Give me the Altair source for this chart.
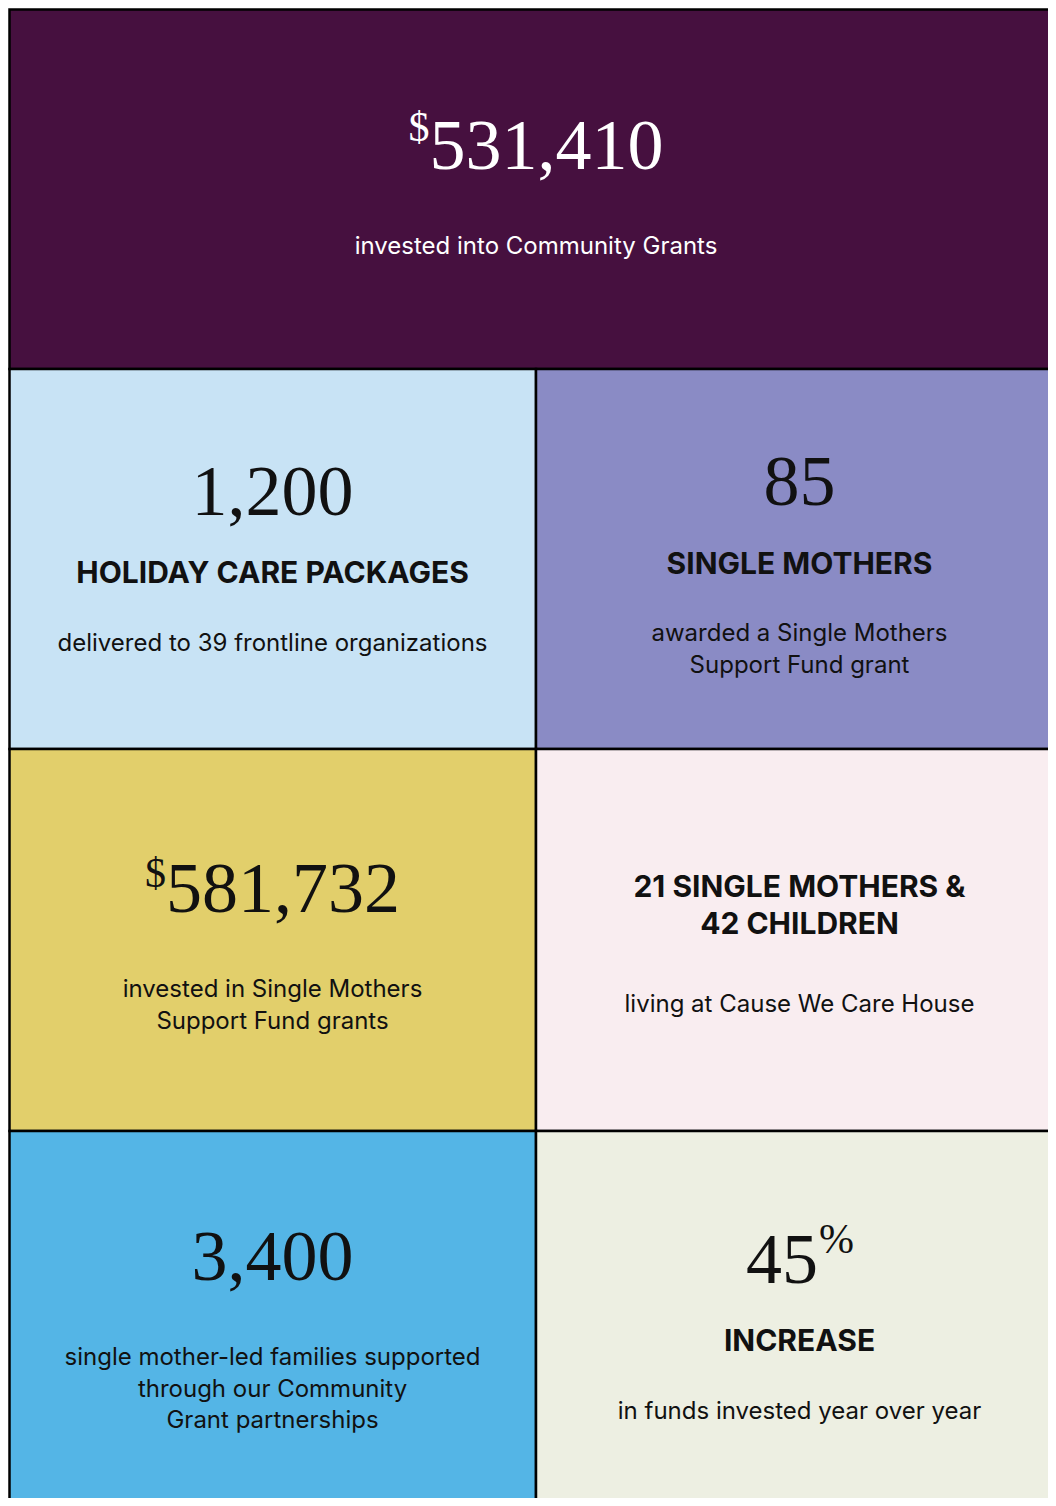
import altair as alt
import pandas as pd

# ---------------- data ----------------
tile_names = ["Community Grants", "Holiday care packages", "Single mothers",
              "SMSF grants", "Cause We Care House", "Families", "Increase"]
tile_colors = ["#46103F", "#C8E3F5", "#8A8BC5", "#E2CF6B", "#F9EDF0", "#54B5E6", "#EDEFE2"]
text_colors = ["#FFFFFF", "#111111", "#111111", "#111111", "#111111", "#111111", "#111111"]
figures = ["531,410", "1,200", "85", "581,732", "", "3,400", "45"]
prefixes = ["$", "", "", "$", "", "", ""]
suffixes = ["", "", "", "", "", "", "%"]
headings = [[], ["HOLIDAY CARE PACKAGES"], ["SINGLE MOTHERS"], [],
            ["21 SINGLE MOTHERS &", "42 CHILDREN"], [], ["INCREASE"]]
descriptions = [["invested into Community Grants"],
                ["delivered to 39 frontline organizations"],
                ["awarded a Single Mothers", "Support Fund grant"],
                ["invested in Single Mothers", "Support Fund grants"],
                ["living at Cause We Care House"],
                ["single mother-led families supported", "through our Community", "Grant partnerships"],
                ["in funds invested year over year"]]

# ---------------- layout (page coordinates, separate from the data) ----------------
W, H = 1040, 1490
PX0, PY0 = 8, 8          # where the plot area starts on the page
COL_EDGES = [9.5, 536, 1070]
ROW_EDGES = [9.5, 369, 749, 1131, 1520]
tile_cols = [(0, 2), (0, 1), (1, 2), (0, 1), (1, 2), (0, 1), (1, 2)]
tile_rows = [0, 1, 1, 2, 2, 3, 3]
centers = [536, 272.5, 799.5, 272.5, 799.5, 272.5, 799.5]
figure_y = [169, 515, 505, 912, None, 1280, 1283]
super_y = [141, None, None, 887, None, None, 1253]
heading_y = [[], [583], [574], [], [897, 934], [], [1351]]
desc_y = [[254], [651], [641, 673], [997, 1029], [1012], [1365, 1397, 1428], [1419]]

SERIF = "Liberation Serif"
SANS = "Inter"
FIG_SIZE = 72
SUP_SIZE = 42
HEAD_SIZE = 30
DESC_SIZE = 24

# Liberation Serif advance widths (em)
ADV = {c: 0.5 for c in "0123456789$"}
ADV[","] = 0.25
ADV["%"] = 0.833


def width(s, size):
    return sum(ADV.get(c, 0.5) for c in s) * size


tiles, figs, pres, sufs, heads, descs = [], [], [], [], [], []
for i, name in enumerate(tile_names):
    c0, c1 = tile_cols[i]
    x0, x1 = COL_EDGES[c0] - PX0, COL_EDGES[c1] - PX0
    y0, y1 = ROW_EDGES[tile_rows[i]] - PY0, ROW_EDGES[tile_rows[i] + 1] - PY0
    cx = centers[i] - PX0
    tiles.append(dict(tile=name, x0=x0, x1=x1, y0=y0, y1=y1, fill=tile_colors[i]))
    col = text_colors[i]
    if figures[i]:
        fw = width(figures[i], FIG_SIZE)
        pw = width(prefixes[i], SUP_SIZE) if prefixes[i] else 0
        sw = width(suffixes[i], SUP_SIZE) if suffixes[i] else 0
        left = cx - (fw + pw + sw) / 2
        figs.append(dict(x=left + pw + fw / 2, y=figure_y[i] - PY0, t=figures[i], c=col))
        if prefixes[i]:
            pres.append(dict(x=left + pw, y=super_y[i] - PY0, t=prefixes[i], c=col))
        if suffixes[i]:
            sufs.append(dict(x=left + pw + fw + 1, y=super_y[i] - PY0, t=suffixes[i], c=col))
    for t, y in zip(headings[i], heading_y[i]):
        heads.append(dict(x=cx, y=y - PY0, t=t, c=col))
    for t, y in zip(descriptions[i], desc_y[i]):
        descs.append(dict(x=cx, y=y - PY0, t=t, c=col))

xs = alt.Scale(domain=[0, W], nice=False, zero=False)
ys = alt.Scale(domain=[0, H], nice=False, zero=False, reverse=True)

rects = alt.Chart(pd.DataFrame(tiles)).mark_rect(
    stroke="#000000", strokeWidth=2.5, clip=True
).encode(
    x=alt.X("x0:Q", scale=xs, axis=None), x2="x1:Q",
    y=alt.Y("y0:Q", scale=ys, axis=None), y2="y1:Q",
    fill=alt.Fill("fill:N", scale=None),
    tooltip=["tile:N"],
)


def text_layer(rows, font, size, weight, align):
    return alt.Chart(pd.DataFrame(rows)).mark_text(
        font=font, fontSize=size, fontWeight=weight, align=align, baseline="alphabetic"
    ).encode(
        x=alt.X("x:Q", scale=xs, axis=None),
        y=alt.Y("y:Q", scale=ys, axis=None),
        text="t:N",
        color=alt.Color("c:N", scale=None),
    )


chart = alt.layer(
    rects,
    text_layer(figs, SERIF, FIG_SIZE, "normal", "center"),
    text_layer(pres, SERIF, SUP_SIZE, "normal", "right"),
    text_layer(sufs, SERIF, SUP_SIZE, "normal", "left"),
    text_layer(heads, SANS, HEAD_SIZE, "bold", "center"),
    text_layer(descs, SANS, DESC_SIZE, "normal", "center"),
).properties(
    width=W, height=H, padding=0, autosize=alt.AutoSizeParams(type="none"),
    background="#FFFFFF",
).configure_view(strokeWidth=0)

chart.save("out.html", embed_options={"renderer": "svg", "actions": False})
